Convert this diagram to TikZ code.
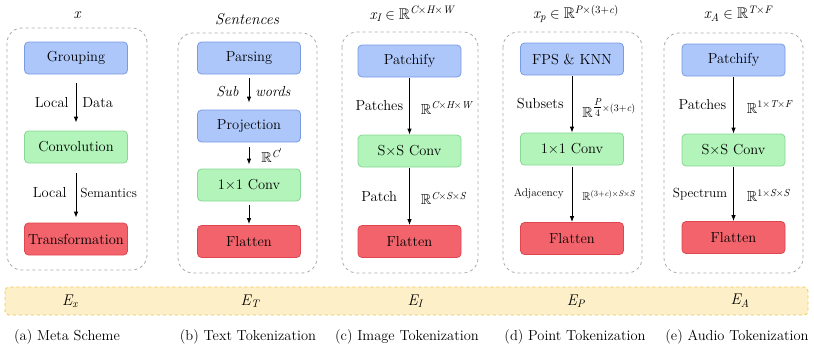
\documentclass[tikz,border=0pt]{standalone}
\usepackage{amsmath,amssymb}
\usetikzlibrary{arrows.meta}
\newcommand{\vi}[1]{\text{\itshape #1}}
\definecolor{bfill}{HTML}{ADC7FA}
\definecolor{bdraw}{HTML}{7A9BE3}
\definecolor{gfill}{HTML}{B2F4B9}
\definecolor{gdraw}{HTML}{86D793}
\definecolor{rfill}{HTML}{F2636B}
\definecolor{rdraw}{HTML}{E0464F}
\definecolor{yfill}{HTML}{FDF0C8}
\definecolor{ydraw}{HTML}{F2C44C}
\definecolor{dgray}{HTML}{AAAAAA}
\tikzset{
  bx/.style={draw, rounded corners=4pt, line width=0.8pt, minimum width=103pt, minimum height=32pt, inner sep=0pt, font=\fontsize{14.5}{16}\selectfont},
  bluebox/.style={bx, fill=bfill, draw=bdraw},
  greenbox/.style={bx, fill=gfill, draw=gdraw},
  redbox/.style={bx, fill=rfill, draw=rdraw},
  panel/.style={draw=dgray, dashed, line width=0.8pt, rounded corners=15pt},
  arr/.style={-{Latex[length=6pt,width=4.5pt]}, line width=0.8pt},
  lbl/.style={inner sep=1pt, font=\fontsize{14.5}{16}\selectfont},
  slbl/.style={inner sep=1pt, font=\fontsize{13.2}{15}\selectfont},
  tlbl/.style={inner sep=1pt, font=\fontsize{11.3}{13}\selectfont},
  ttl/.style={inner sep=0pt, font=\fontsize{15.5}{17}\selectfont},
  capstyle/.style={inner sep=0pt, font=\fontsize{14.5}{16}\selectfont},
}
\begin{document}
\begin{tikzpicture}[x=1pt,y=-1pt]
\useasboundingbox (0,0) rectangle (814,349);
% dashed panels
\draw[panel] (7,28) rectangle (147,270);
\draw[panel] (178,33) rectangle (317,273);
\draw[panel] (342,32) rectangle (478,273);
\draw[panel] (503,32) rectangle (642,273);
\draw[panel] (664,33) rectangle (803,273);
% titles
\node[ttl] (ta) at (77,15) {$\vi{x}$};
\node[ttl] (tb) at (247,19) {\itshape Sentences};
\node[ttl] (tc) at (412,14) {$\vi{x}_{\vi{I}}\in\mathbb{R}^{\vi{C}\times \vi{H}\times \vi{W}}$};
\node[ttl] (td) at (576,14) {$\vi{x}_{\vi{p}}\in\mathbb{R}^{\vi{P}\times(3+\vi{c})}$};
\node[ttl] (te) at (738,14) {$\vi{x}_{\vi{A}}\in\mathbb{R}^{\vi{T}\times \vi{F}}$};
% panel a
\node[bluebox] (a1) at (76,58) {Grouping};
\node[greenbox] (a2) at (76,147) {Convolution};
\node[redbox] (a3) at (76,239) {Transformation};
\draw[arr, shorten <=9pt, shorten >=8pt] (a1) -- (a2)
  node[midway, lbl, left=6pt] {Local} node[midway, lbl, right=5pt] {Data};
\draw[arr, shorten <=10pt, shorten >=5pt] (a2) -- (a3)
  node[midway, lbl, left=8pt] {Local} node[midway, slbl, right=3pt] {Semantics};
% panel b
\node[bluebox] (b1) at (249,58) {Parsing};
\node[bluebox] (b2) at (249,126) {Projection};
\node[greenbox] (b3) at (249,185) {1\texttimes1 Conv};
\node[redbox] (b4) at (249,241.5) {Flatten};
\draw[arr, shorten <=4pt, shorten >=7pt] (b1) -- (b2)
  node[midway, lbl, left=9pt] {\itshape Sub} node[midway, lbl, right=5pt] {\itshape words};
\draw[arr, shorten <=5pt, shorten >=4pt] (b2) -- (b3)
  node[midway, lbl, right=11pt] {$\mathbb{R}^{\vi{C}'}$};
\draw[arr, shorten <=4pt, shorten >=1pt] (b3) -- (b4);
% panel c
\node[bluebox] (c1) at (409.5,61) {Patchify};
\node[greenbox] (c2) at (409.5,151) {S\texttimes S Conv};
\node[redbox] (c3) at (409.5,241.5) {Flatten};
\draw[arr, shorten <=1pt] (c1) -- (c2)
  node[midway, lbl, left=5pt] {Patches} node[midway, lbl, right=10pt, yshift=-2pt] {$\mathbb{R}^{\vi{C}\times \vi{H}\times \vi{W}}$};
\draw[arr, shorten <=1pt] (c2) -- (c3)
  node[midway, lbl, left=11pt] {Patch} node[midway, lbl, right=10pt, yshift=-2pt] {$\mathbb{R}^{\vi{C}\times \vi{S}\times \vi{S}}$};
% panel d
\node[bluebox] (d1) at (572,59) {FPS \& KNN};
\node[greenbox] (d2) at (572,149) {1\texttimes1 Conv};
\node[redbox] (d3) at (572,238.5) {Flatten};
\draw[arr, shorten <=1pt] (d1) -- (d2)
  node[midway, lbl, left=7pt] {Subsets} node[midway, lbl, right=9pt, yshift=-4pt] {$\mathbb{R}^{\genfrac{}{}{0.4pt}{1}{\vi{P}}{4}\times(3+\vi{c})}$};
\draw[arr, shorten <=2pt] (d2) -- (d3)
  node[midway, tlbl, left=7pt] {Adjacency} node[midway, tlbl, right=9pt, yshift=-2pt] {$\mathbb{R}^{(3+\vi{c})\times \vi{S}\times \vi{S}}$};
% panel e
\node[bluebox] (e1) at (733.5,60) {Patchify};
\node[greenbox] (e2) at (733.5,150) {S\texttimes S Conv};
\node[redbox] (e3) at (733.5,237.5) {Flatten};
\draw[arr, shorten <=1pt] (e1) -- (e2)
  node[midway, lbl, left=6pt] {Patches} node[midway, lbl, right=12pt, yshift=-2pt] {$\mathbb{R}^{1\times \vi{T}\times \vi{F}}$};
\draw[arr, shorten <=1pt] (e2) -- (e3)
  node[midway, slbl, left=5pt] {Spectrum} node[midway, lbl, right=12pt, yshift=-2pt] {$\mathbb{R}^{1\times \vi{S}\times \vi{S}}$};
% band
\draw[draw=ydraw, fill=yfill, dashed, line width=0.8pt, rounded corners=4pt] (5,287) rectangle (808,315);
\node[ttl] (ea) at (70,301) {$\vi{E}_{\vi{x}}$};
\node[ttl] (eb) at (250,301) {$\vi{E}_{\vi{T}}$};
\node[ttl] (ec) at (415,301) {$\vi{E}_{\vi{I}}$};
\node[ttl] (ed) at (576,301) {$\vi{E}_{\vi{P}}$};
\node[ttl] (ee) at (740,301) {$\vi{E}_{\vi{A}}$};
% captions
\node[capstyle] (ca) at (67,337) {(a) Meta Scheme};
\node[capstyle] (cb) at (248,337) {(b) Text Tokenization};
\node[capstyle] (cc) at (407,337) {(c) Image Tokenization};
\node[capstyle] (cd) at (575,337) {(d) Point Tokenization};
\node[capstyle] (ce) at (737,337) {(e) Audio Tokenization};
\end{tikzpicture}
\end{document}
